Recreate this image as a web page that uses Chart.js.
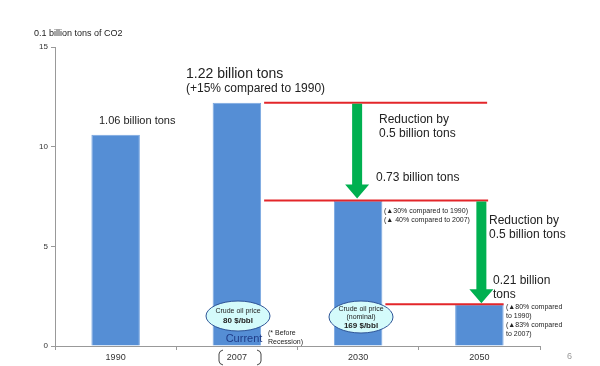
<!DOCTYPE html>
<html>
<head>
<meta charset="utf-8">
<script src="https://cdn.jsdelivr.net/npm/chart.js@4.4.1/dist/chart.umd.min.js"></script>
<style>
html,body{margin:0;padding:0;background:#fff;}
#c{display:block;}
</style>
</head>
<body>
<canvas id="c" width="600" height="366"></canvas>
<script>
const categories = ['1990', '2007', '2030', '2050'];
const emissions = [10.6, 12.2, 7.3, 2.1];
const yTicks = [0, 5, 10, 15];
const yUnit = '0.1 billion tons of CO2';

const FONT = '"Liberation Sans", Arial, sans-serif';

function txt(ctx, s, x, y, size, opts) {
  opts = opts || {};
  ctx.save();
  ctx.font = (opts.bold ? 'bold ' : '') + size + 'px ' + FONT;
  ctx.fillStyle = opts.color || '#222';
  ctx.textAlign = opts.align || 'left';
  ctx.textBaseline = 'middle';
  ctx.fillText(s, x, y);
  ctx.restore();
}

function arrow(ctx, x, y1, y2) {
  const sw = 5, hw = 12, hl = 14;
  ctx.save();
  ctx.fillStyle = '#00b050';
  ctx.beginPath();
  ctx.moveTo(x - sw, y1);
  ctx.lineTo(x + sw, y1);
  ctx.lineTo(x + sw, y2 - hl);
  ctx.lineTo(x + hw, y2 - hl);
  ctx.lineTo(x, y2);
  ctx.lineTo(x - hw, y2 - hl);
  ctx.lineTo(x - sw, y2 - hl);
  ctx.closePath();
  ctx.fill();
  ctx.restore();
}

function redLine(ctx, x1, x2, y) {
  ctx.save();
  ctx.strokeStyle = '#e3262a';
  ctx.lineWidth = 2;
  ctx.beginPath();
  ctx.moveTo(x1, y);
  ctx.lineTo(x2, y);
  ctx.stroke();
  ctx.restore();
}

function ellipse(ctx, cx, cy, rx, ry) {
  ctx.save();
  ctx.fillStyle = '#d4fbfb';
  ctx.strokeStyle = '#2f5597';
  ctx.lineWidth = 1;
  ctx.beginPath();
  ctx.ellipse(cx, cy, rx, ry, 0, 0, Math.PI * 2);
  ctx.fill();
  ctx.stroke();
  ctx.restore();
}

const annotations = {
  id: 'annotations',
  afterDraw(chart) {
    const ctx = chart.ctx;
    const y = chart.scales.y;
    const bars = chart.getDatasetMeta(0).data;
    const b = bars.map(el => ({x: el.x, w: el.width, top: el.y, l: el.x - el.width / 2, r: el.x + el.width / 2}));

    // axis unit
    txt(ctx, yUnit, 34, 34, 9);

    // red reference lines
    const y07 = y.getPixelForValue(emissions[1]);
    const y30 = y.getPixelForValue(emissions[2]);
    const y50 = y.getPixelForValue(emissions[3]);
    redLine(ctx, b[1].r + 3, b[2].x + 129, y07);
    redLine(ctx, b[1].r + 3, b[2].x + 130, y30);
    redLine(ctx, b[2].r + 3, b[3].r, y50);

    // green arrows
    arrow(ctx, b[2].x - 1, y07 + 1, y30 - 2);
    arrow(ctx, b[3].x + 2, y30 + 1, y50 - 1);

    // bar labels
    txt(ctx, '1.06 billion tons', 99, 121, 11);
    txt(ctx, '1.22 billion tons', 186, 74, 14);
    txt(ctx, '(+15% compared to 1990)', 186, 89, 12);

    txt(ctx, 'Reduction by', 379, 120, 12);
    txt(ctx, '0.5 billion tons', 379, 134, 12);
    txt(ctx, '0.73 billion tons', 376, 178, 12);

    txt(ctx, '(\u25B230% compared to 1990)', 384, 211, 7);
    txt(ctx, '(\u25B2 40% compared to 2007)', 384, 220, 7);

    txt(ctx, 'Reduction by', 489, 221, 12);
    txt(ctx, '0.5 billion tons', 489, 235, 12);
    txt(ctx, '0.21 billion', 493, 281, 12);
    txt(ctx, 'tons', 493, 295, 12);

    txt(ctx, '(\u25B280% compared', 506, 307, 7);
    txt(ctx, 'to 1990)', 506, 316, 7);
    txt(ctx, '(\u25B283% compared', 506, 325, 7);
    txt(ctx, 'to 2007)', 506, 334, 7);

    // oil price ellipses
    ellipse(ctx, 238, 316, 32, 15);
    txt(ctx, 'Crude oil price', 238, 311, 7, {align: 'center'});
    txt(ctx, '80 $/bbl', 238, 321, 8, {align: 'center', bold: true});

    txt(ctx, 'Current', 244, 339, 11, {align: 'center', color: '#1f3c88'});
    txt(ctx, '(* Before', 268, 333, 7);
    txt(ctx, 'Recession)', 268, 342, 7);

    ellipse(ctx, 361, 317, 32, 16);
    txt(ctx, 'Crude oil price', 361, 309, 7, {align: 'center'});
    txt(ctx, '(nominal)', 361, 317, 7, {align: 'center'});
    txt(ctx, '169 $/bbl', 361, 326, 8, {align: 'center', bold: true});

    // bracket around 2007
    ctx.save();
    ctx.strokeStyle = '#444';
    ctx.lineWidth = 1;
    ctx.beginPath();
    ctx.moveTo(223, 350); ctx.quadraticCurveTo(219, 351, 219, 354);
    ctx.lineTo(219, 361); ctx.quadraticCurveTo(219, 364, 223, 365);
    ctx.moveTo(257, 350); ctx.quadraticCurveTo(261, 351, 261, 354);
    ctx.lineTo(261, 361); ctx.quadraticCurveTo(261, 364, 257, 365);
    ctx.stroke();
    ctx.restore();

    // page number
    txt(ctx, '6', 567, 357, 9, {color: '#999'});
  }
};

new Chart(document.getElementById('c'), {
  type: 'bar',
  data: {
    labels: categories,
    datasets: [{
      data: emissions,
      backgroundColor: '#558ed5',
      borderColor: '#7aa7e0',
      borderWidth: 1,
      barPercentage: 0.4,
      categoryPercentage: 1.0
    }]
  },
  options: {
    responsive: false,
    animation: false,
    events: [],
    layout: {padding: {left: 0, right: 60, top: 47, bottom: 0}},
    plugins: {legend: {display: false}, tooltip: {enabled: false}},
    scales: {
      y: {
        min: 0, max: 15,
        afterBuildTicks(s) { s.ticks = yTicks.map(v => ({value: v})); },
        afterFit(s) { s.width = 55; },
        ticks: {font: {size: 8, family: FONT}, color: '#333', padding: 3},
        grid: {drawOnChartArea: false, drawTicks: true, tickLength: 4, color: '#999'},
        border: {display: true, color: '#999'}
      },
      x: {
        afterFit(s) { s.height = 20; },
        ticks: {font: {size: 9, family: FONT}, color: '#333', padding: 2},
        grid: {drawOnChartArea: false, drawTicks: true, tickLength: 4, color: '#999', offset: true},
        border: {display: true, color: '#999'}
      }
    }
  },
  plugins: [annotations]
});
</script>
</body>
</html>
